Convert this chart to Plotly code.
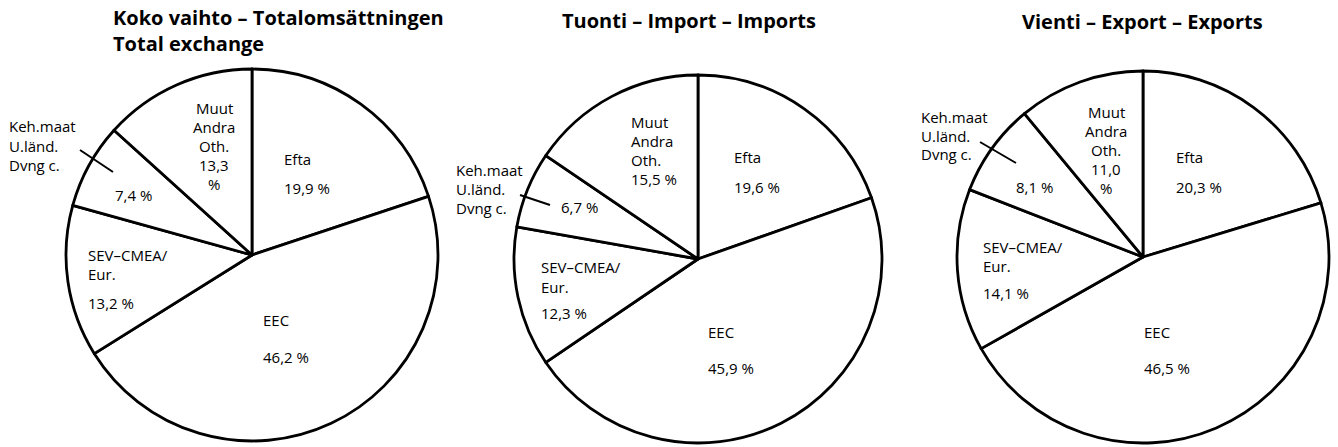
import plotly.graph_objects as go

W, H = 1338, 447

# ---- data ----
categories = ["Efta", "EEC", "SEV-CMEA/Eur.", "Keh.maat", "Muut"]
total_exchange = [19.9, 46.2, 13.2, 7.4, 13.3]
imports = [19.6, 45.9, 12.3, 6.7, 15.5]
exports = [20.3, 46.5, 14.1, 8.1, 11.0]

def pct(v):
    return f"{v:.1f}".replace(".", ",")

# ---- layout geometry (pixels) ----
pies = [
    dict(values=total_exchange, cx=252, cy=255, r=186),
    dict(values=imports, cx=698, cy=259, r=184),
    dict(values=exports, cx=1143, cy=257, r=186),
]

def px(x):
    return x / W

def py(y):
    return 1 - y / H

fig = go.Figure()
for p in pies:
    fig.add_trace(go.Pie(
        labels=categories, values=p["values"], sort=False, direction="clockwise",
        rotation=0, textinfo="none", hoverinfo="label+value",
        marker=dict(colors=["white"] * 5, line=dict(color="black", width=2.8)),
        domain=dict(x=[px(p["cx"] - p["r"]), px(p["cx"] + p["r"])],
                    y=[py(p["cy"] + p["r"]), py(p["cy"] - p["r"])]),
        showlegend=False,
    ))

FONT = "Open Sans"
LBL = dict(family=FONT, size=15, color="black")
TTL = dict(family=FONT, size=20, color="black")

annotations = []

def txt(x, y, s, anchor="left", font=LBL):
    annotations.append(dict(x=px(x), y=py(y), xref="paper", yref="paper", text=s,
                            showarrow=False, xanchor=anchor, yanchor="middle", font=font))

# titles
txt(111, 18, "<b>Koko vaihto – Totalomsättningen</b>", font=TTL)
txt(111, 43, "<b>Total exchange</b>", font=TTL)
txt(689, 20, "<b>Tuonti – Import – Imports</b>", anchor="center", font=TTL)
txt(1142, 22, "<b>Vienti – Export – Exports</b>", anchor="center", font=TTL)

# pie 1 labels
v = total_exchange
for i, s in enumerate(["Muut", "Andra", "Oth.", pct(v[4]), "%"]):
    txt(214, 108 + i * 19, s, anchor="center")
txt(282, 159, "Efta"); txt(282, 188, pct(v[0]) + " %")
for i, s in enumerate(["Keh.maat", "U.länd.", "Dvng c."]):
    txt(7, 126 + i * 19.5, s)
txt(133, 195, pct(v[3]) + " %", anchor="center")
txt(86, 255, "SEV–CMEA/"); txt(86, 274, "Eur."); txt(86, 303, pct(v[2]) + " %")
txt(261, 320, "EEC"); txt(261, 357, pct(v[1]) + " %")

# pie 2 labels
v = imports
for i, s in enumerate(["Muut", "Andra", "Oth.", pct(v[4]) + " %"]):
    txt(629, 122 + i * 19, s)
txt(732, 157, "Efta"); txt(732, 187, pct(v[0]) + " %")
for i, s in enumerate(["Keh.maat", "U.länd.", "Dvng c."]):
    txt(454, 170 + i * 19, s)
txt(559, 207, pct(v[3]) + " %")
txt(539, 267, "SEV–CMEA/"); txt(539, 287, "Eur."); txt(539, 313, pct(v[2]) + " %")
txt(706, 332, "EEC"); txt(706, 368, pct(v[1]) + " %")

# pie 3 labels
v = exports
for i, s in enumerate(["Muut", "Andra", "Oth.", pct(v[4]), "%"]):
    txt(1106, 112 + i * 19, s, anchor="center")
txt(1174, 157, "Efta"); txt(1174, 187, pct(v[0]) + " %")
for i, s in enumerate(["Keh.maat", "U.länd.", "Dvng c."]):
    txt(919, 117 + i * 18.5, s)
txt(1014, 187, pct(v[3]) + " %")
txt(981, 247, "SEV–CMEA/"); txt(981, 266, "Eur."); txt(981, 293, pct(v[2]) + " %")
txt(1142, 332, "EEC"); txt(1142, 368, pct(v[1]) + " %")

# leader lines for Keh.maat
leaders = [((80, 150), (113, 172)), ((520, 195), (550, 205)), ((980, 142), (1016, 163))]
shapes = []
for (x0, y0), (x1, y1) in leaders:
    shapes.append(dict(type="line", xref="paper", yref="paper",
                       x0=px(x0), y0=py(y0), x1=px(x1), y1=py(y1),
                       line=dict(color="black", width=2)))

fig.update_layout(width=W, height=H, margin=dict(l=0, r=0, t=0, b=0),
                  paper_bgcolor="white", plot_bgcolor="white",
                  annotations=annotations, shapes=shapes)

fig.write_html("out.html", config={"displayModeBar": False},
               post_script="document.body.style.margin='0';document.body.style.overflow='hidden';")
